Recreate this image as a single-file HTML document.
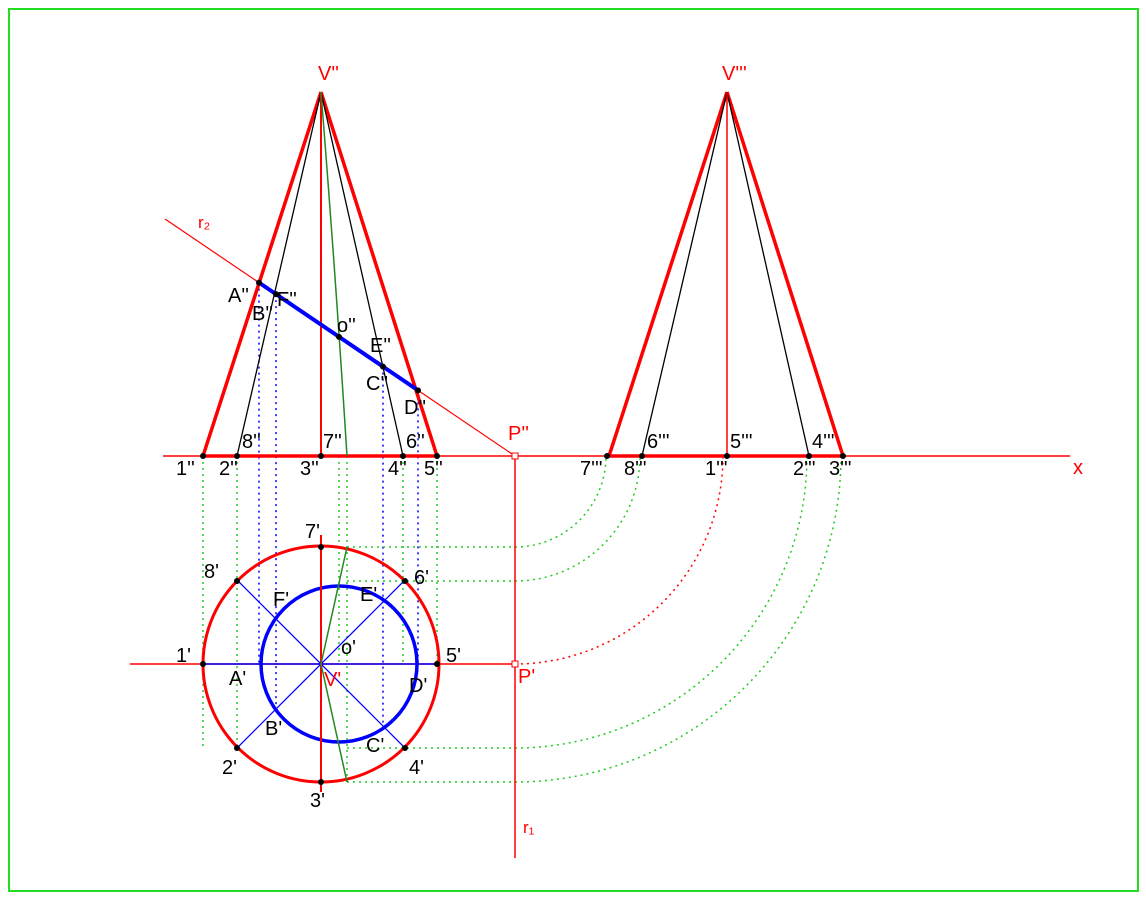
<!DOCTYPE html>
<html><head><meta charset="utf-8"><style>
body{margin:0;background:#fff}
svg text{font-family:"Liberation Sans",sans-serif;font-size:20px}
</style></head><body>
<svg width="1146" height="900" viewBox="0 0 1146 900">
<rect x="9" y="9" width="1129" height="882" fill="none" stroke="#22dd22" stroke-width="2"/>
<g id="lines"></g>
<g id="labels"></g>
</svg>
<script>
const baseY=456, Vx=321, Vy=92, Sx=727, Px=515, Cy=664, R=118;
const frontBase=[203,237,321,403,437];
const sideBase=[607,642,727,809,843];
const arcPts=[547,581,664,748,782];
const cutX=[259,276,339,383,418];
const NS='http://www.w3.org/2000/svg';
const L=document.getElementById('lines'), T=document.getElementById('labels');
function el(tag,a,name,parent){const e=document.createElementNS(NS,tag);for(const k in a)e.setAttribute(k,a[k]);


(parent||L).appendChild(e);return e;}
function ln(x1,y1,x2,y2,c,w,d,n){const a={x1,y1,x2,y2,stroke:c,'stroke-width':w};if(d)a['stroke-dasharray']=d;return el('line',a,n||'line');}
const G='#22cc22',B='#0000ff',Rd='#ff0000';
const r2y=x=>219+(x-165)*(456-219)/(515-165);
const cut=cutX.map(x=>[x,r2y(x)]);
[203,237].forEach(x=>ln(x,456,x,748,G,1.5,'2 4','projector'));
[403,437].forEach(x=>ln(x,456,x,664,G,1.5,'2 4','projector'));
ln(339,456,339,664,G,1.5,'2 4','projector');
ln(347,456,347,782,G,1.5,'2 4','projector');
ln(cut[0][0],cut[0][1],cut[0][0],664,B,1.5,'2 4','projector');
ln(cut[1][0],cut[1][1],cut[1][0],710,B,1.5,'2 4','projector');
ln(cut[3][0],cut[3][1],cut[3][0],727,B,1.5,'2 4','projector');
ln(cut[4][0],cut[4][1],cut[4][0],664,B,1.5,'2 4','projector');
arcPts.forEach((y,i)=>{const r=y-baseY;const c=i==2?Rd:G;
 if(i!=2) ln(347,y,Px,y,G,1.5,'2 4','transfer-line');
 el('path',{d:`M${Px} ${y} A${r} ${r} 0 0 0 ${Px+r} ${baseY}`,fill:'none',stroke:c,'stroke-width':1.5,'stroke-dasharray':'2 4'},'transfer-arc');});
ln(163,456,1070,456,Rd,1.5,null,'x-axis');
ln(203,456,437,456,Rd,3.5,null,'front-base');
ln(607,456,843,456,Rd,3.5,null,'side-base');
ln(Px,456,Px,858,Rd,1.5,null,'r1-trace');
ln(165,219,Px,456,Rd,1.2,null,'r2-trace');
ln(130,Cy,Px,Cy,Rd,1.5,null,'top-axis');
ln(Vx,Vy,203,456,Rd,3.5,null,'front-edge');ln(Vx,Vy,437,456,Rd,3.5,null,'front-edge');
ln(Vx,Vy,237,456,'#000',1.3,null,'generatrix');ln(Vx,Vy,403,456,'#000',1.3,null,'generatrix');
ln(Vx,Vy,Vx,456,Rd,2,null,'front-axis');
el('path',{d:'M321 92 Q336 280 347 456',fill:'none',stroke:'#228822','stroke-width':1.5},'green-curve');
ln(Sx,Vy,609,456,Rd,3.5,null,'side-edge');ln(Sx,Vy,843,456,Rd,3.5,null,'side-edge');
ln(Sx,Vy,642,456,'#000',1.3,null,'generatrix');ln(Sx,Vy,809,456,'#000',1.3,null,'generatrix');
ln(Sx,Vy,Sx,456,Rd,1.5,null,'side-axis');
ln(cut[0][0],cut[0][1],cut[4][0],cut[4][1],B,4,null,'section-line');
cut.forEach(p=>el('circle',{cx:p[0],cy:p[1],r:3,fill:'#000'},'cut-point'));
el('circle',{cx:Vx,cy:Cy,r:R,fill:'none',stroke:Rd,'stroke-width':3},'base-circle');
el('circle',{cx:339,cy:Cy,r:78,fill:'none',stroke:B,'stroke-width':3.5},'section-ellipse');
const d=R*0.707;
ln(Vx-d,Cy-d,Vx+d,Cy+d,B,1.3,null,'diag');ln(Vx-d,Cy+d,Vx+d,Cy-d,B,1.3,null,'diag');
ln(203,Cy,437,Cy,B,1.5,null,'top-h');
ln(Vx,535,Vx,792,Rd,2,null,'top-v');
ln(347,547,Vx,Cy,'#228822',1.5,null,'green-top');ln(Vx,Cy,347,782,'#228822',1.5,null,'green-top');
[[203,664],[237,581],[237,748],[321,547],[321,782],[405,581],[405,748],[437,664]].forEach(p=>el('circle',{cx:p[0],cy:p[1],r:3,fill:'#000'},'base-point'));
frontBase.concat(sideBase).forEach(x=>el('circle',{cx:x,cy:456,r:3,fill:'#000'},'base-point'));
el('rect',{x:512,y:453,width:6,height:6,fill:'#fff',stroke:Rd},'p-point');
el('rect',{x:512,y:661,width:6,height:6,fill:'#fff',stroke:Rd},'p-point');
const labs=[["V''",318,80,Rd],["V'''",722,80,Rd],["r₂",198,228,Rd,17],["P''",508,440,Rd],["P'",518,683,Rd],["x",1073,474,Rd],["r₁",523,833,Rd,17],
["F''",277,306],["A''",228,302],["B''",252,320],["o''",337,332],["E''",370,352],["C''",366,390],["D''",404,414],
["8''",242,448],["7''",323,448],["6''",406,448],["1''",176,475],["2''",219,475],["3''",300,475],["4''",388,475],["5''",424,475],
["6'''",647,448],["5'''",730,448],["4'''",812,448],["7'''",580,475],["8'''",624,475],["1'''",705,475],["2'''",793,475],["3'''",829,475],
["7'",305,538],["8'",204,578],["6'",414,584],["1'",176,662],["5'",446,662],["2'",222,774],["4'",409,774],["3'",310,807],
["F'",273,606],["E'",360,601],["o'",341,654],["A'",229,685],["V'",324,686,Rd],["D'",409,692],["B'",265,735],["C'",366,752]];
labs.forEach(l=>{const t=el('text',{x:l[1],y:l[2],fill:l[3]||'#000'},'label',T);if(l[4])t.setAttribute('style','font-size:'+l[4]+'px');t.textContent=l[0];});
</script>
</body></html>
